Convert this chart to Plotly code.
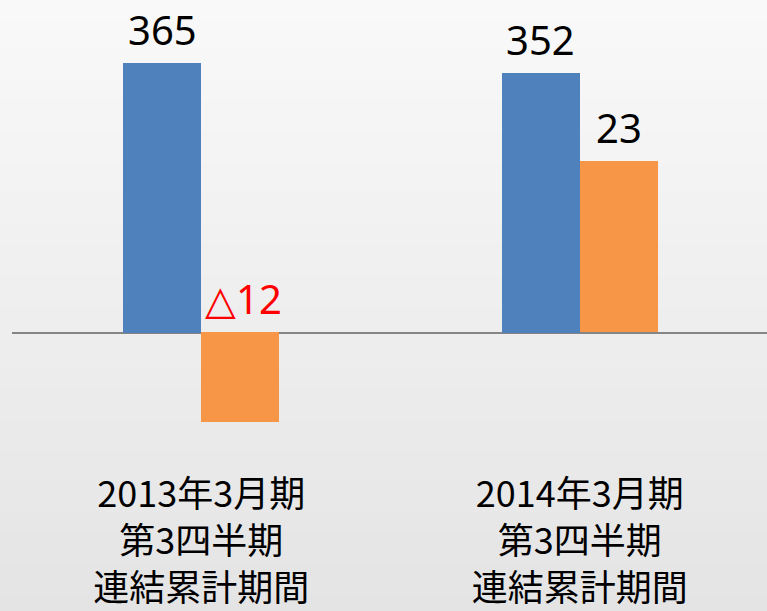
import plotly.graph_objects as go

categories = ["2013年3月期<br>第3四半期<br>連結累計期間", "2014年3月期<br>第3四半期<br>連結累計期間"]
series_a = [365, 352]          # 左軸 (青)
series_b = [-12, 23]           # 右軸 (オレンジ)
labels_a = ["365", "352"]
labels_b = ["△12", "23"]
label_b_colors = ["#FF0000", "#000000"]

BLUE = "#4F81BD"
ORANGE = "#F79646"
W = 0.206
xs = [0, 1]

fig = go.Figure()
fig.add_trace(go.Bar(x=xs, y=series_a, width=W, offset=-W, marker=dict(color=BLUE, line=dict(width=0)),
                     yaxis="y", showlegend=False, hoverinfo="skip"))
fig.add_trace(go.Bar(x=xs, y=series_b, width=W, offset=0, marker=dict(color=ORANGE, line=dict(width=0)),
                     yaxis="y2", showlegend=False, hoverinfo="skip"))

# gradient background (paper y from 1.0 at top to -0.3 at bottom)
n = 60
top = (249, 249, 249)
bot = (228, 228, 228)
y_top, y_bot = 1.005, -0.31
step = (y_top - y_bot) / n
shapes = []
for i in range(n):
    t = i / (n - 1)
    c = tuple(round(top[k] + (bot[k] - top[k]) * t) for k in range(3))
    shapes.append(dict(type="rect", xref="paper", yref="paper", x0=-0.1, x1=1.1,
                       y0=y_top - (i + 1) * step - 0.003, y1=y_top - i * step,
                       fillcolor="rgb(%d,%d,%d)" % c, line=dict(width=0), layer="below"))

annotations = []
for x, v, lab in zip(xs, series_a, labels_a):
    annotations.append(dict(x=x - W / 2, y=v, xref="x", yref="y", text=lab, showarrow=False,
                            yanchor="bottom", yshift=4, font=dict(size=40, color="#000000", family="Noto Sans")))
for x, v, lab, col in zip(xs, series_b, labels_b, label_b_colors):
    annotations.append(dict(x=x + W / 2, y=max(v, 0), xref="x", yref="y2", text=lab, showarrow=False,
                            yanchor="bottom", yshift=4, xshift=3 if v < 0 else 0,
                            font=dict(size=40, color=col, family="Noto Sans")))

fig.update_layout(
    width=767, height=611,
    margin=dict(l=12, r=0, t=0, b=141),
    paper_bgcolor="#eeeeee", plot_bgcolor="rgba(0,0,0,0)",
    shapes=shapes, annotations=annotations,
    xaxis=dict(range=[-0.5, 1.4947], tickmode="array", tickvals=xs, ticktext=categories,
               showgrid=False, showline=False, zeroline=False, ticks="",
               automargin=False,
               tickfont=dict(size=36, color="#000000", family="Noto Sans CJK JP")),
    yaxis=dict(range=[-186.3, 450.5], showgrid=False, showticklabels=False, zeroline=True,
               zerolinecolor="#858585", zerolinewidth=2, automargin=False),
    yaxis2=dict(range=[-18.46, 44.63], overlaying="y", side="right", showgrid=False,
                showticklabels=False, zeroline=False, automargin=False),
    bargap=0,
)

fig.write_html("out.html")
